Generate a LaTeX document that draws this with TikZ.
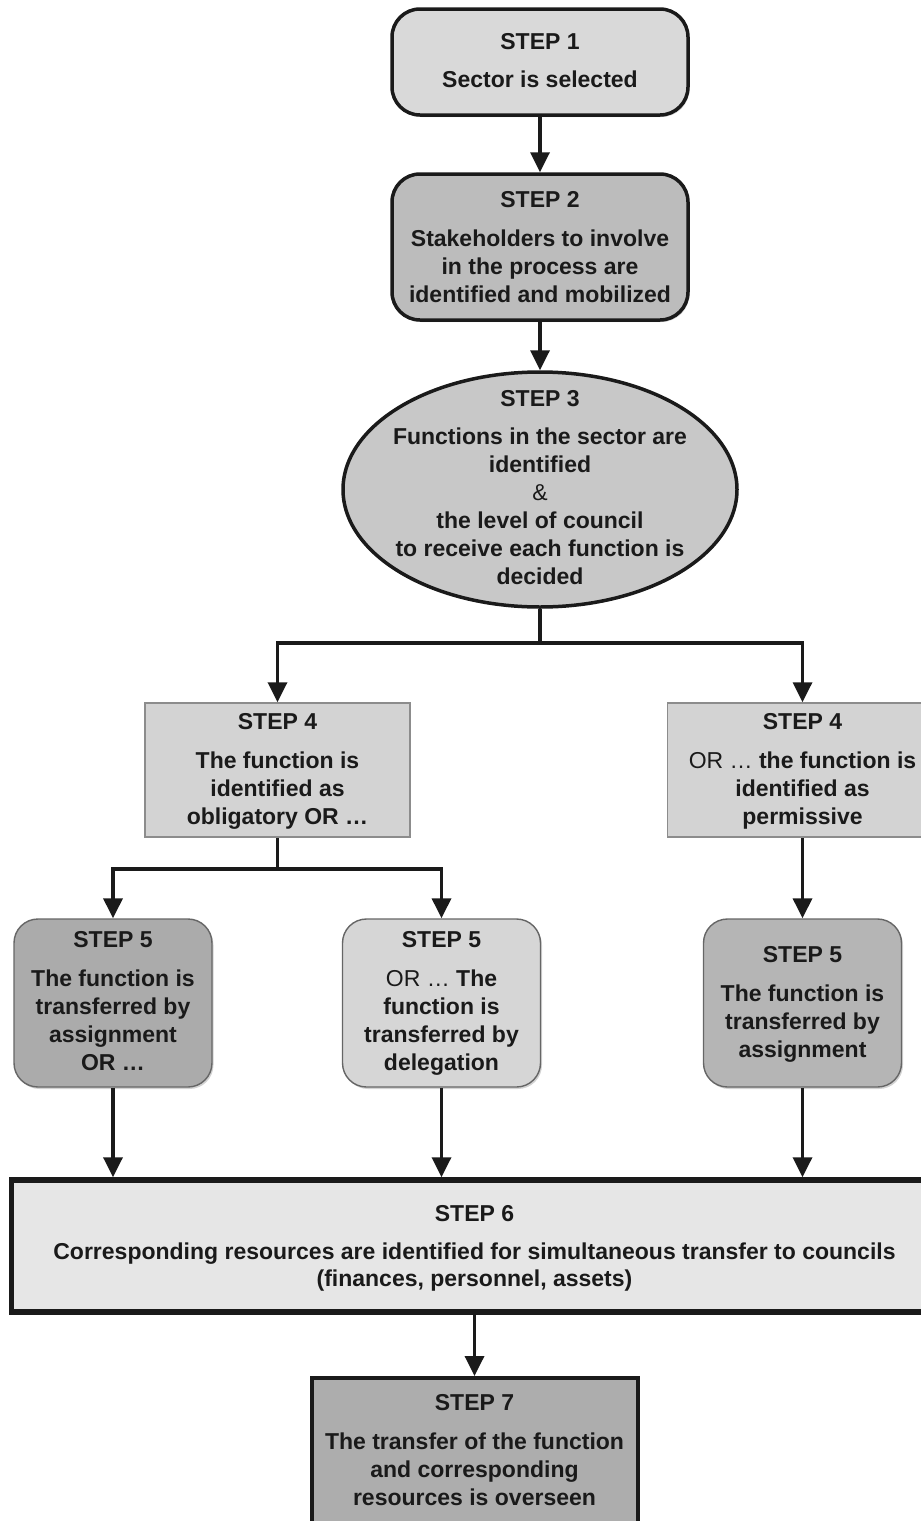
\documentclass[tikz,border=0pt]{standalone}
\usepackage{fontspec}
\setmainfont{Liberation Sans}
\usetikzlibrary{arrows.meta,shapes.geometric,shadows}

\definecolor{ink}{HTML}{1A1A1A}
\definecolor{fillA}{HTML}{D9D9D9}
\definecolor{fillB}{HTML}{BCBCBC}
\definecolor{fillC}{HTML}{C8C8C8}
\definecolor{fillD}{HTML}{D3D3D3}
\definecolor{fillE}{HTML}{ABABAB}
\definecolor{fillF}{HTML}{D6D6D6}
\definecolor{fillG}{HTML}{B5B5B5}
\definecolor{fillH}{HTML}{E6E6E6}
\definecolor{fillI}{HTML}{ADADAD}

\tikzset{
  every picture/.style={x=1pt,y=-1pt},
  txt/.style={font=\bfseries\fontsize{23}{28}\selectfont, align=center,
              inner sep=0pt, text=ink, anchor=north},
  roundbox/.style={draw=ink, line width=3.5pt, rounded corners=28pt,
                   drop shadow={shadow xshift=1.5pt, shadow yshift=-2pt, opacity=0.35}},
  softbox/.style={draw=black!60, line width=1.4pt, rounded corners=24pt,
                  drop shadow={shadow xshift=1.5pt, shadow yshift=-2pt, opacity=0.35}},
  plainbox/.style={draw=black!45, line width=1.5pt},
  heavybox/.style={draw=ink, line width=5.5pt},
  conn/.style={draw=ink, line width=3.5pt},
  arr/.style={conn, -{Triangle[width=19pt,length=20pt]}},
}

\begin{document}
\begin{tikzpicture}
\useasboundingbox (0,0) rectangle (921,1521);
\begin{scope}
\clip (0,0) rectangle (921,1521);

% ---- boxes ----
\node[roundbox, fill=fillA, minimum width=296pt, minimum height=106pt] (s1) at (540,62) {};
\node[roundbox, fill=fillB, minimum width=296pt, minimum height=146pt] (s2) at (540,247) {};
\node[ellipse, draw=ink, line width=3.5pt, fill=fillC,
      minimum width=394pt, minimum height=235pt] (s3) at (540,489.5) {};
\node[plainbox, fill=fillD, minimum width=265pt, minimum height=134pt] (s4a) at (277.5,770) {};
\node[plainbox, fill=fillD, minimum width=270pt, minimum height=134pt] (s4b) at (802.5,770) {};
\node[softbox, fill=fillE, minimum width=198pt, minimum height=168pt] (s5a) at (113,1003) {};
\node[softbox, fill=fillF, minimum width=198pt, minimum height=168pt] (s5b) at (441.5,1003) {};
\node[softbox, fill=fillG, minimum width=198pt, minimum height=168pt] (s5c) at (802.5,1003) {};
\node[heavybox, fill=fillH, minimum width=926pt, minimum height=132pt,
      drop shadow={shadow xshift=1pt, shadow yshift=-2.5pt, opacity=0.6}] (s6) at (474.5,1246) {};
\node[heavybox, line width=4pt, fill=fillI, minimum width=326pt, minimum height=162pt] (s7) at (474.5,1459) {};

% ---- texts ----
\node[txt] (t1) at (540,33) {STEP 1\\[10pt]Sector is selected};
\node[txt] (t2) at (540,191) {STEP 2\\[11pt]Stakeholders to involve\\in the process are\\identified and mobilized};
\node[txt] (t3) at (540,390) {STEP 3\\[10.5pt]Functions in the sector are\\identified\\{\mdseries\&}\\the level of council\\to receive each function is\\decided};
\node[txt] (t4a) at (277.5,713) {STEP 4\\[11pt]The function is\\identified as\\obligatory OR …};
\node[txt] (t4b) at (802.5,713) {STEP 4\\[11pt]{\mdseries OR …} the function is\\identified as\\permissive};
\node[txt] (t5a) at (113,931) {STEP 5\\[11pt]The function is\\transferred by\\assignment\\OR …};
\node[txt] (t5b) at (441.5,931) {STEP 5\\[11pt]{\mdseries OR … }The\\function is\\transferred by\\delegation};
\node[txt] (t5c) at (802.5,946) {STEP 5\\[11pt]The function is\\transferred by\\assignment};
\node[txt, font=\bfseries\fontsize{23}{27}\selectfont] (t6) at (474.5,1205)
  {STEP 6\\[11pt]Corresponding resources are identified for simultaneous transfer to councils\\(finances, personnel, assets)};
\node[txt] (t7) at (474.5,1394) {STEP 7\\[11pt]The transfer of the function\\and corresponding\\resources is overseen};

% ---- connectors ----
\coordinate (j3) at (540,643);
\coordinate (j4) at (277.5,869);

\draw[arr] (s1) -- (s2);
\draw[arr] (s2) -- (s3);
\draw[conn] (s3.south) -- (j3);
\draw[arr] (j3) -| (s4a.north);
\draw[arr] (j3) -| (s4b.north);
\draw[conn] (s4a.south) -- (j4);
\draw[arr] (j4) -| (s5a.north);
\draw[arr] (j4) -| (s5b.north);
\draw[arr] (s4b.south) -- (s5c.north);
\draw[arr] (s5a.south) -- (s5a.south |- s6.north);
\draw[arr] (s5b.south) -- (s5b.south |- s6.north);
\draw[arr] (s5c.south) -- (s5c.south |- s6.north);
\draw[arr] (s6.south) -- (s7.north);
\end{scope}
\end{tikzpicture}
\end{document}
